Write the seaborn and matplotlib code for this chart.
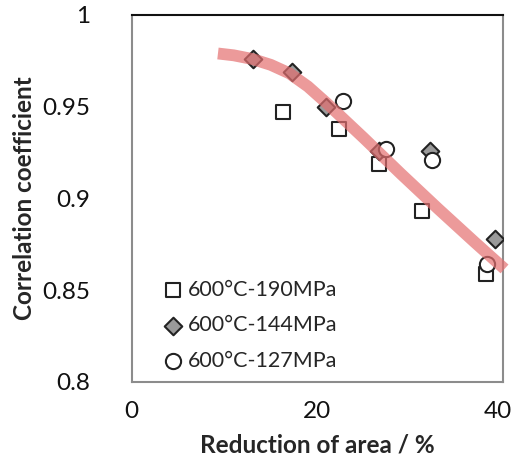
import matplotlib
matplotlib.use("Agg")
import matplotlib.pyplot as plt
import matplotlib.transforms as mtransforms
import numpy as np
import pandas as pd
import seaborn as sns

# Reduction of area (%) and correlation coefficient for each creep condition
ra_190 = [16.3, 22.3, 26.7, 31.3, 38.2]
cc_190 = [0.947, 0.938, 0.919, 0.893, 0.859]

ra_144 = [13.1, 17.3, 21.0, 26.7, 32.2, 39.2]
cc_144 = [0.976, 0.969, 0.950, 0.926, 0.926, 0.878]

ra_127 = [22.8, 27.4, 32.4, 38.3]
cc_127 = [0.953, 0.927, 0.921, 0.864]

# Hand-drawn trend band
trend_x = [9.3, 11.0, 13.0, 15.0, 17.0, 19.0, 21.0, 23.0, 25.0,
           29.0, 33.0, 37.0, 40.2]
trend_y = [0.979, 0.9780, 0.9760, 0.9728, 0.9682, 0.961, 0.952, 0.9425,
           0.933, 0.9135, 0.8945, 0.876, 0.8615]

labels = ["600°C-190MPa", "600°C-144MPa", "600°C-127MPa"]
x_ticks = [0, 20, 40]
y_ticks = [0.8, 0.85, 0.9, 0.95, 1.0]
y_tick_labels = ["0.8", "0.85", "0.9", "0.95", "1"]

sns.set_style("white")
plt.rcParams["font.family"] = ["Lato", "DejaVu Sans"]

fig = plt.figure(figsize=(5.15, 4.61), dpi=100)
ax = fig.add_axes([0.2557, 0.172, 0.7204, 0.7955])

df190 = pd.DataFrame({"ra": ra_190, "cc": cc_190})
df144 = pd.DataFrame({"ra": ra_144, "cc": cc_144})
df127 = pd.DataFrame({"ra": ra_127, "cc": cc_127})
dtr = pd.DataFrame({"ra": trend_x, "cc": trend_y})

sns.scatterplot(data=df190, x="ra", y="cc", ax=ax, marker="s", s=110,
                facecolor="white", edgecolor="#222222", linewidth=1.5,
                label=labels[0], zorder=3)
sns.scatterplot(data=df144, x="ra", y="cc", ax=ax, marker="D", s=80,
                facecolor="#9a9a9a", edgecolor="#222222", linewidth=1.5,
                label=labels[1], zorder=3)
sns.scatterplot(data=df127, x="ra", y="cc", ax=ax, marker="o", s=120,
                facecolor="white", edgecolor="#222222", linewidth=1.5,
                label=labels[2], zorder=3)

sns.lineplot(data=dtr, x="ra", y="cc", ax=ax, sort=False, color="#e46f70",
             linewidth=8.5, alpha=0.7, solid_capstyle="butt",
             solid_joinstyle="round", zorder=4, clip_on=False, legend=False)

ax.set_xlim(0, 40)
ax.set_ylim(0.8, 1.0)
ax.set_xticks(x_ticks)
ax.set_yticks(y_ticks)
ax.set_yticklabels(y_tick_labels)
ax.tick_params(axis="y", direction="in", length=8, color="#888888",
               pad=30, labelsize=17.5, labelcolor="#111111")
ax.tick_params(axis="x", direction="in", length=8, color="#888888",
               pad=14, labelsize=17.5, labelcolor="#111111")

# keep the last x tick label inside the figure edge
last = ax.get_xticklabels()[-1]
last.set_transform(last.get_transform() +
                   mtransforms.ScaledTranslation(-5 / 100, 0,
                                                 fig.dpi_scale_trans))

for side in ["left", "bottom", "right"]:
    ax.spines[side].set_color("#8c8c8c")
    ax.spines[side].set_linewidth(1.5)
ax.spines["top"].set_color("#111111")
ax.spines["top"].set_linewidth(1.5)

ax.set_xlabel("Reduction of area / %", fontsize=17.5, fontweight="bold",
              labelpad=8)
ax.set_ylabel("Correlation coefficient", fontsize=17.5, fontweight="bold",
              labelpad=4)

leg = ax.legend(loc="lower left", bbox_to_anchor=(0.095, 0.03),
                frameon=False, fontsize=15.5, handlelength=0.6,
                handletextpad=0.35, labelspacing=0.72, borderpad=0,
                borderaxespad=0)

fig.savefig("out.png", dpi=100)
